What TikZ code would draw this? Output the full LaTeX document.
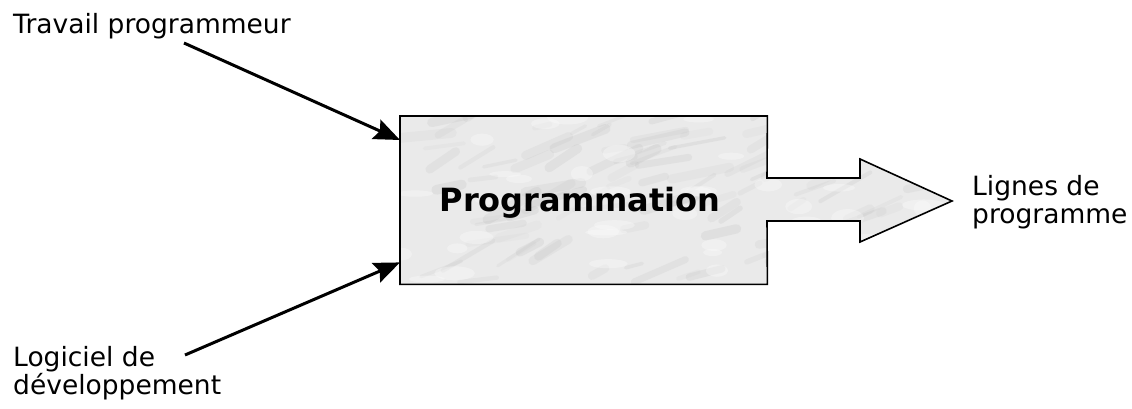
\documentclass[tikz,border=0pt]{standalone}
\usepackage{fontspec}
\setmainfont{DejaVu Sans}
\usetikzlibrary{arrows.meta}
\definecolor{marble}{RGB}{234,234,234}
\definecolor{vein}{RGB}{175,175,175}
\tikzset{
  lbl/.style={anchor=base west, inner sep=0pt, font=\fontsize{26.5}{30}\selectfont, align=left},
  inarrow/.style={line width=3pt, -{Stealth[length=26pt,width=21pt,inset=4pt]}},
  outline/.style={draw=black, line width=1.6pt, line join=miter},
}
\begin{document}
\begin{tikzpicture}[x=1pt,y=-1pt]
\useasboundingbox (0,0) rectangle (1132,408);
% box node (the outline is drawn together with the output arrow)
\node[minimum width=367pt, minimum height=168pt, inner sep=0pt, anchor=north west] (box) at (400,116) {};
% filled combined shape
\fill[marble] (box.north west) -- (box.north east) -- (767,178) -- (860,178) -- (860,159) -- (952,201) -- (860,242) -- (860,221) -- (767,221) -- (box.south east) -- (box.south west) -- cycle;
% marble texture
\begin{scope}
\clip (box.north west) -- (box.north east) -- (767,178) -- (860,178) -- (860,159) -- (952,201) -- (860,242) -- (860,221) -- (767,221) -- (box.south east) -- (box.south west) -- cycle;
\pgfmathsetseed{7}
\foreach \i in {1,...,110}{
  \pgfmathsetmacro{\xa}{400+rnd*550}
  \pgfmathsetmacro{\ya}{116+rnd*168}
  \pgfmathsetmacro{\len}{15+rnd*45}
  \pgfmathsetmacro{\ang}{-35+rnd*30}
  \pgfmathsetmacro{\op}{0.06+rnd*0.12}
  \draw[vein, line width=3+rnd*7, opacity=\op, line cap=round] (\xa,\ya) -- ++(\ang:\len);
}
\foreach \i in {1,...,40}{
  \pgfmathsetmacro{\xa}{400+rnd*550}
  \pgfmathsetmacro{\ya}{116+rnd*168}
  \fill[white, opacity=0.3] (\xa,\ya) ellipse (8+rnd*14 and 3+rnd*6);
}
\end{scope}
\draw[outline] (box.north west) -- (box.north east) -- (767,178) -- (860,178) -- (860,159) -- (952,201) -- (860,242) -- (860,221) -- (767,221) -- (box.south east) -- (box.south west) -- cycle;
\node[font=\fontsize{32}{36}\selectfont\bfseries, inner sep=0pt] (title) at (580,203) {Programmation};
% labels
\node[lbl] (trav) at (13,33) {Travail programmeur};
\node[lbl, align=left, anchor=north west] (logi) at (13,346) {Logiciel de\\[-2pt]développement};
\node[lbl, align=left, anchor=north west] (lign) at (972,175) {Lignes de\\[-2pt]programme};
% connectors
\coordinate (s1) at (184,43);
\coordinate (s2) at (185,355);
\draw[inarrow] (s1) -- ([yshift=-24pt]box.north west);
\draw[inarrow] (s2) -- ([yshift=22pt]box.south west);
\end{tikzpicture}
\end{document}
